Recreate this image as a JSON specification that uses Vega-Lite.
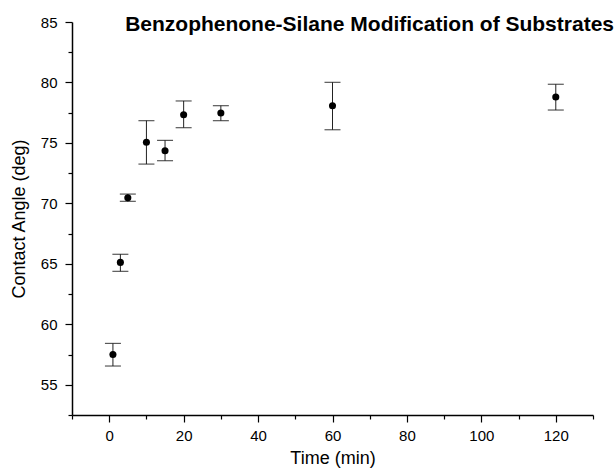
{
  "$schema": "https://vega.github.io/schema/vega-lite/v6.json",
  "autosize": "none",
  "width": 521,
  "height": 393,
  "padding": {"left": 72, "top": 22, "right": 23, "bottom": 59},
  "background": "white",
  "title": {
    "text": "Benzophenone-Silane Modification of Substrates",
    "anchor": "end",
    "frame": "group",
    "dx": 21,
    "offset": -37,
    "baseline": "alphabetic",
    "font": "Liberation Sans",
    "fontSize": 21,
    "fontWeight": "bold",
    "color": "black"
  },
  "config": {
    "view": {"stroke": null},
    "axis": {
      "labelFont": "Liberation Sans",
      "titleFont": "Liberation Sans",
      "labelFontSize": 15,
      "titleFontSize": 18,
      "titleFontWeight": "normal",
      "labelColor": "black",
      "titleColor": "black",
      "domainColor": "black",
      "tickColor": "black",
      "domainWidth": 1.5,
      "tickWidth": 1.2,
      "grid": false
    }
  },
  "data": {
    "values": [
      {"t": 1, "angle": 57.5, "lo": 56.55, "hi": 58.42},
      {"t": 3, "angle": 65.12, "lo": 64.38, "hi": 65.79},
      {"t": 5, "angle": 70.47, "lo": 70.17, "hi": 70.77},
      {"t": 10, "angle": 75.05, "lo": 73.25, "hi": 76.84},
      {"t": 15, "angle": 74.36, "lo": 73.53, "hi": 75.21},
      {"t": 20, "angle": 77.33, "lo": 76.26, "hi": 78.47},
      {"t": 30, "angle": 77.47, "lo": 76.84, "hi": 78.08},
      {"t": 60, "angle": 78.08, "lo": 76.09, "hi": 80.01},
      {"t": 120, "angle": 78.8, "lo": 77.72, "hi": 79.85}
    ]
  },
  "encoding": {
    "x": {
      "field": "t",
      "type": "quantitative",
      "title": "Time (min)",
      "scale": {"domain": [-10, 130], "nice": false, "zero": false},
      "axis": {
        "values": [-10, 0, 10, 20, 30, 40, 50, 60, 70, 80, 90, 100, 110, 120, 130],
        "labelExpr": "datum.value % 20 === 0 ? datum.label : ''",
        "tickSize": {"condition": {"test": "datum.value % 20 === 0", "value": 7}, "value": 4},
        "labelPadding": 6,
        "titlePadding": 6,
        "labelFlush": false,
        "labelOverlap": false
      }
    }
  },
  "layer": [
    {
      "mark": {"type": "rule", "color": "#222222", "strokeWidth": 1},
      "encoding": {
        "y": {
          "field": "lo",
          "type": "quantitative",
          "title": "Contact Angle (deg)",
          "scale": {"domain": [52.5, 85], "nice": false, "zero": false},
          "axis": {
            "values": [52.5, 55, 57.5, 60, 62.5, 65, 67.5, 70, 72.5, 75, 77.5, 80, 82.5, 85],
            "labelExpr": "datum.value % 5 === 0 ? datum.label : ''",
            "tickSize": {"condition": {"test": "datum.value % 5 === 0", "value": 7}, "value": 4},
            "labelPadding": 8,
            "titlePadding": 12,
            "labelFlush": false,
            "labelOverlap": false
          }
        },
        "y2": {"field": "hi"}
      }
    },
    {
      "mark": {"type": "tick", "orient": "horizontal", "color": "#111111", "size": 16, "thickness": 1.2},
      "encoding": {
        "y": {
          "field": "lo",
          "type": "quantitative",
          "title": "Contact Angle (deg)",
          "scale": {"domain": [52.5, 85], "nice": false, "zero": false},
          "axis": {
            "values": [52.5, 55, 57.5, 60, 62.5, 65, 67.5, 70, 72.5, 75, 77.5, 80, 82.5, 85],
            "labelExpr": "datum.value % 5 === 0 ? datum.label : ''",
            "tickSize": {"condition": {"test": "datum.value % 5 === 0", "value": 7}, "value": 4},
            "labelPadding": 8,
            "titlePadding": 12,
            "labelFlush": false,
            "labelOverlap": false
          }
        }
      }
    },
    {
      "mark": {"type": "tick", "orient": "horizontal", "color": "#111111", "size": 16, "thickness": 1.2},
      "encoding": {
        "y": {
          "field": "hi",
          "type": "quantitative",
          "title": "Contact Angle (deg)",
          "scale": {"domain": [52.5, 85], "nice": false, "zero": false},
          "axis": {
            "values": [52.5, 55, 57.5, 60, 62.5, 65, 67.5, 70, 72.5, 75, 77.5, 80, 82.5, 85],
            "labelExpr": "datum.value % 5 === 0 ? datum.label : ''",
            "tickSize": {"condition": {"test": "datum.value % 5 === 0", "value": 7}, "value": 4},
            "labelPadding": 8,
            "titlePadding": 12,
            "labelFlush": false,
            "labelOverlap": false
          }
        }
      }
    },
    {
      "mark": {"type": "point", "filled": true, "color": "black", "opacity": 1, "size": 50},
      "encoding": {
        "y": {
          "field": "angle",
          "type": "quantitative",
          "title": "Contact Angle (deg)",
          "scale": {"domain": [52.5, 85], "nice": false, "zero": false},
          "axis": {
            "values": [52.5, 55, 57.5, 60, 62.5, 65, 67.5, 70, 72.5, 75, 77.5, 80, 82.5, 85],
            "labelExpr": "datum.value % 5 === 0 ? datum.label : ''",
            "tickSize": {"condition": {"test": "datum.value % 5 === 0", "value": 7}, "value": 4},
            "labelPadding": 8,
            "titlePadding": 12,
            "labelFlush": false,
            "labelOverlap": false
          }
        }
      }
    }
  ]
}
